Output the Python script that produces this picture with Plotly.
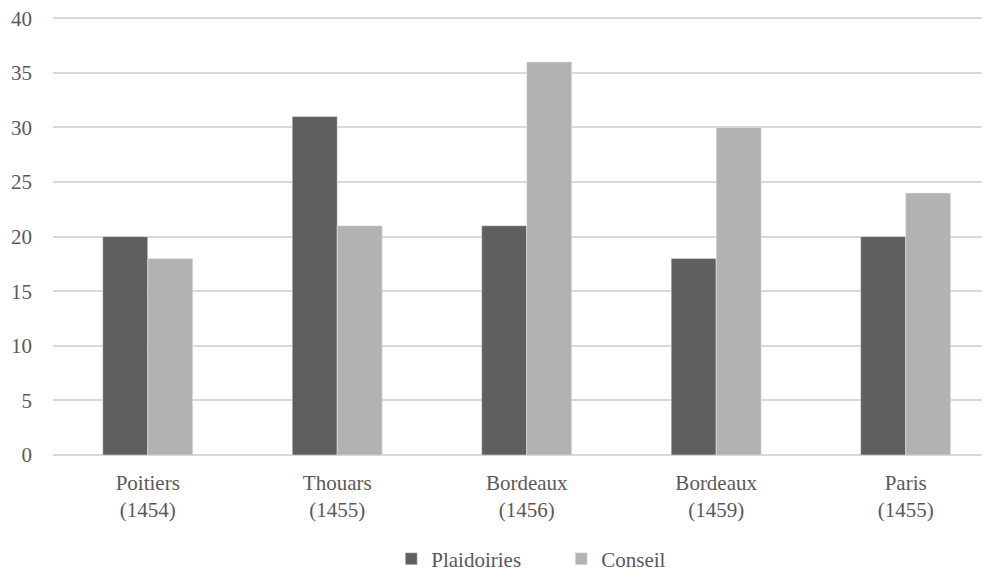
import plotly.graph_objects as go

categories = ["Poitiers<br>(1454)", "Thouars<br>(1455)", "Bordeaux<br>(1456)", "Bordeaux<br>(1459)", "Paris<br>(1455)"]
plaidoiries = [20, 31, 21, 18, 20]
conseil = [18, 21, 36, 30, 24]

font_family = "Liberation Serif"

fig = go.Figure()
fig.add_trace(go.Bar(x=categories, y=plaidoiries, name="Plaidoiries", marker_color="#5f5f5f"))
fig.add_trace(go.Bar(x=categories, y=conseil, name="Conseil", marker_color="#b2b2b2"))

# page body has an 8px margin, so the figure is sized/offset to fill the 990x575 window
fig.update_layout(
    width=982, height=567,
    margin=dict(l=45, r=0, t=7, b=120, autoexpand=False),
    plot_bgcolor="white", paper_bgcolor="white",
    barmode="group", bargap=0.525, bargroupgap=0,
    font=dict(family=font_family, size=21, color="#595959"),
    legend=dict(orientation="h", x=0.361, xanchor="left", y=-0.19, yanchor="top",
                font=dict(family=font_family, size=21, color="#595959"),
                traceorder="normal", itemwidth=30, entrywidth=125),
    showlegend=True,
)
fig.update_yaxes(range=[0, 40.3], dtick=5, showgrid=True, gridcolor="#d9d9d9", gridwidth=2,
                 zeroline=True, zerolinecolor="#d9d9d9", zerolinewidth=2,
                 ticks="", ticklabelstandoff=20, showline=False, automargin=False,
                 ticklabeloverflow="allow")
fig.update_xaxes(range=[-0.5, 4.445], showgrid=False, ticks="", showline=False,
                 ticklabelstandoff=13, automargin=False)

fig.write_html("out.html")
